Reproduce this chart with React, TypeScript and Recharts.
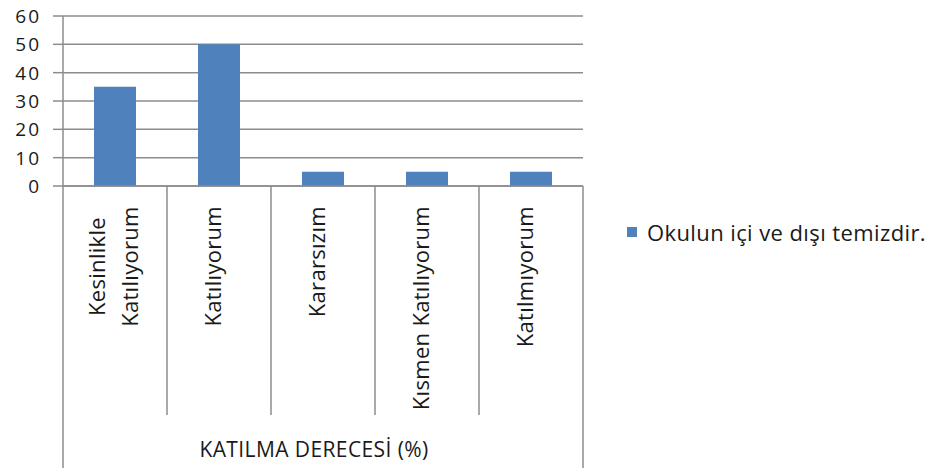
import * as React from "react";
import { Bar, BarChart, CartesianGrid, Legend, XAxis, YAxis } from "recharts";

// kategori etiketleri ("\n" = satır sonu)
const categories = [
  "Kesinlikle\nKatılıyorum",
  "Katılıyorum",
  "Kararsızım",
  "Kısmen Katılıyorum",
  "Katılmıyorum",
];
const values = [35, 50, 5, 5, 5];
const yTicks = [0, 10, 20, 30, 40, 50, 60];
const seriesName = "Okulun içi ve dışı temizdir.";
const groupLabel = "KATILMA DERECESİ (%)";

const data = categories.map((name, i) => ({ name, value: values[i] }));

const BLUE = "#4f81bd";
const GRID = "#8c8c8c";
const INK = "#1a1a1a";
const CHART_H = 468;

function YTick(props: any): JSX.Element {
  const { x, y, payload } = props;
  return (
    <text
      x={x}
      y={y}
      dy={7}
      textAnchor="end"
      fill={INK}
      fontSize={19}
      style={{ letterSpacing: 2 }}
    >
      {payload.value}
    </text>
  );
}

function CategoryTick(props: any): JSX.Element {
  const { x, y, payload, index, visibleTicksCount } = props;
  const half = payload.offset || 52;
  const lines = String(payload.value).split("\n");
  const last = index === (visibleTicksCount ?? categories.length) - 1;
  const fontSize = 22;
  const top = y + 20;
  const lineGap = 33;
  const longest = Math.max(...lines.map((l) => l.length));
  return (
    <g>
      <line
        x1={x - half}
        x2={x - half}
        y1={y}
        y2={index === 0 ? CHART_H : y + 229}
        stroke={GRID}
        strokeWidth={1.5}
      />
      {last && (
        <line
          x1={x + half}
          x2={x + half}
          y1={y}
          y2={CHART_H}
          stroke={GRID}
          strokeWidth={1.5}
        />
      )}
      {lines.map((line, i) => {
        const multi = lines.length > 1;
        const tx = x + 2 + (multi ? 4 : 0) + (i - (lines.length - 1) / 2) * lineGap;
        const ty = multi ? top + (longest * 0.5 * fontSize) / 2 : top;
        return (
          <text
            key={i}
            x={tx}
            y={ty}
            transform={`rotate(-90, ${tx}, ${ty})`}
            textAnchor={multi ? "middle" : "end"}
            fill={INK}
            fontSize={fontSize}
            style={{ letterSpacing: 0.3 }}
          >
            {line}
          </text>
        );
      })}
    </g>
  );
}

function GroupLabel(props: any): JSX.Element {
  const { viewBox } = props;
  return (
    <text
      x={viewBox.x + viewBox.width / 2 - 9}
      y={viewBox.y + viewBox.height - 11}
      textAnchor="middle"
      fill={INK}
      fontSize={21}
      style={{ letterSpacing: 0.4 }}
    >
      {groupLabel}
    </text>
  );
}

function LegendContent(props: any): JSX.Element {
  const items = props.payload || [];
  return (
    <div>
      {items.map((item: any) => (
        <div
          key={item.value}
          style={{ display: "flex", alignItems: "center", lineHeight: "30px" }}
        >
          <span
            style={{
              display: "inline-block",
              width: 10,
              height: 10,
              background: BLUE,
              marginRight: 10,
            }}
          />
          <span
            style={{
              fontSize: 22,
              color: INK,
              whiteSpace: "nowrap",
              letterSpacing: 0.4,
            }}
          >
            {item.value}
          </span>
        </div>
      ))}
    </div>
  );
}

export default function App(): JSX.Element {
  return (
    <div
      style={{
        position: "absolute",
        left: 0,
        top: 0,
        width: 931,
        height: CHART_H,
        background: "#fff",
        fontFamily: "'Open Sans', sans-serif",
      }}
    >
      <BarChart
        width={931}
        height={CHART_H}
        data={data}
        margin={{ top: 16, right: 348, left: 0, bottom: 0 }}
        barCategoryGap={0}
      >
        <CartesianGrid vertical={false} stroke={GRID} strokeWidth={1.5} />
        <XAxis
          dataKey="name"
          interval={0}
          height={282}
          tickSize={0}
          tickMargin={0}
          tickLine={false}
          axisLine={{ stroke: GRID, strokeWidth: 1.5 }}
          tick={<CategoryTick />}
          label={<GroupLabel />}
        />
        <YAxis
          width={63}
          domain={[0, 60]}
          ticks={yTicks}
          interval={0}
          tickSize={10}
          tickMargin={12}
          tickLine={{ stroke: GRID, strokeWidth: 1.5 }}
          axisLine={{ stroke: GRID, strokeWidth: 1.5 }}
          tick={<YTick />}
        />
        <Legend
          layout="vertical"
          align="center"
          verticalAlign="middle"
          wrapperStyle={{ left: 627, top: 217, width: "auto", height: "auto" }}
          content={<LegendContent />}
        />
        <Bar
          dataKey="value"
          name={seriesName}
          fill={BLUE}
          barSize={42}
          isAnimationActive={false}
        />
      </BarChart>
    </div>
  );
}
